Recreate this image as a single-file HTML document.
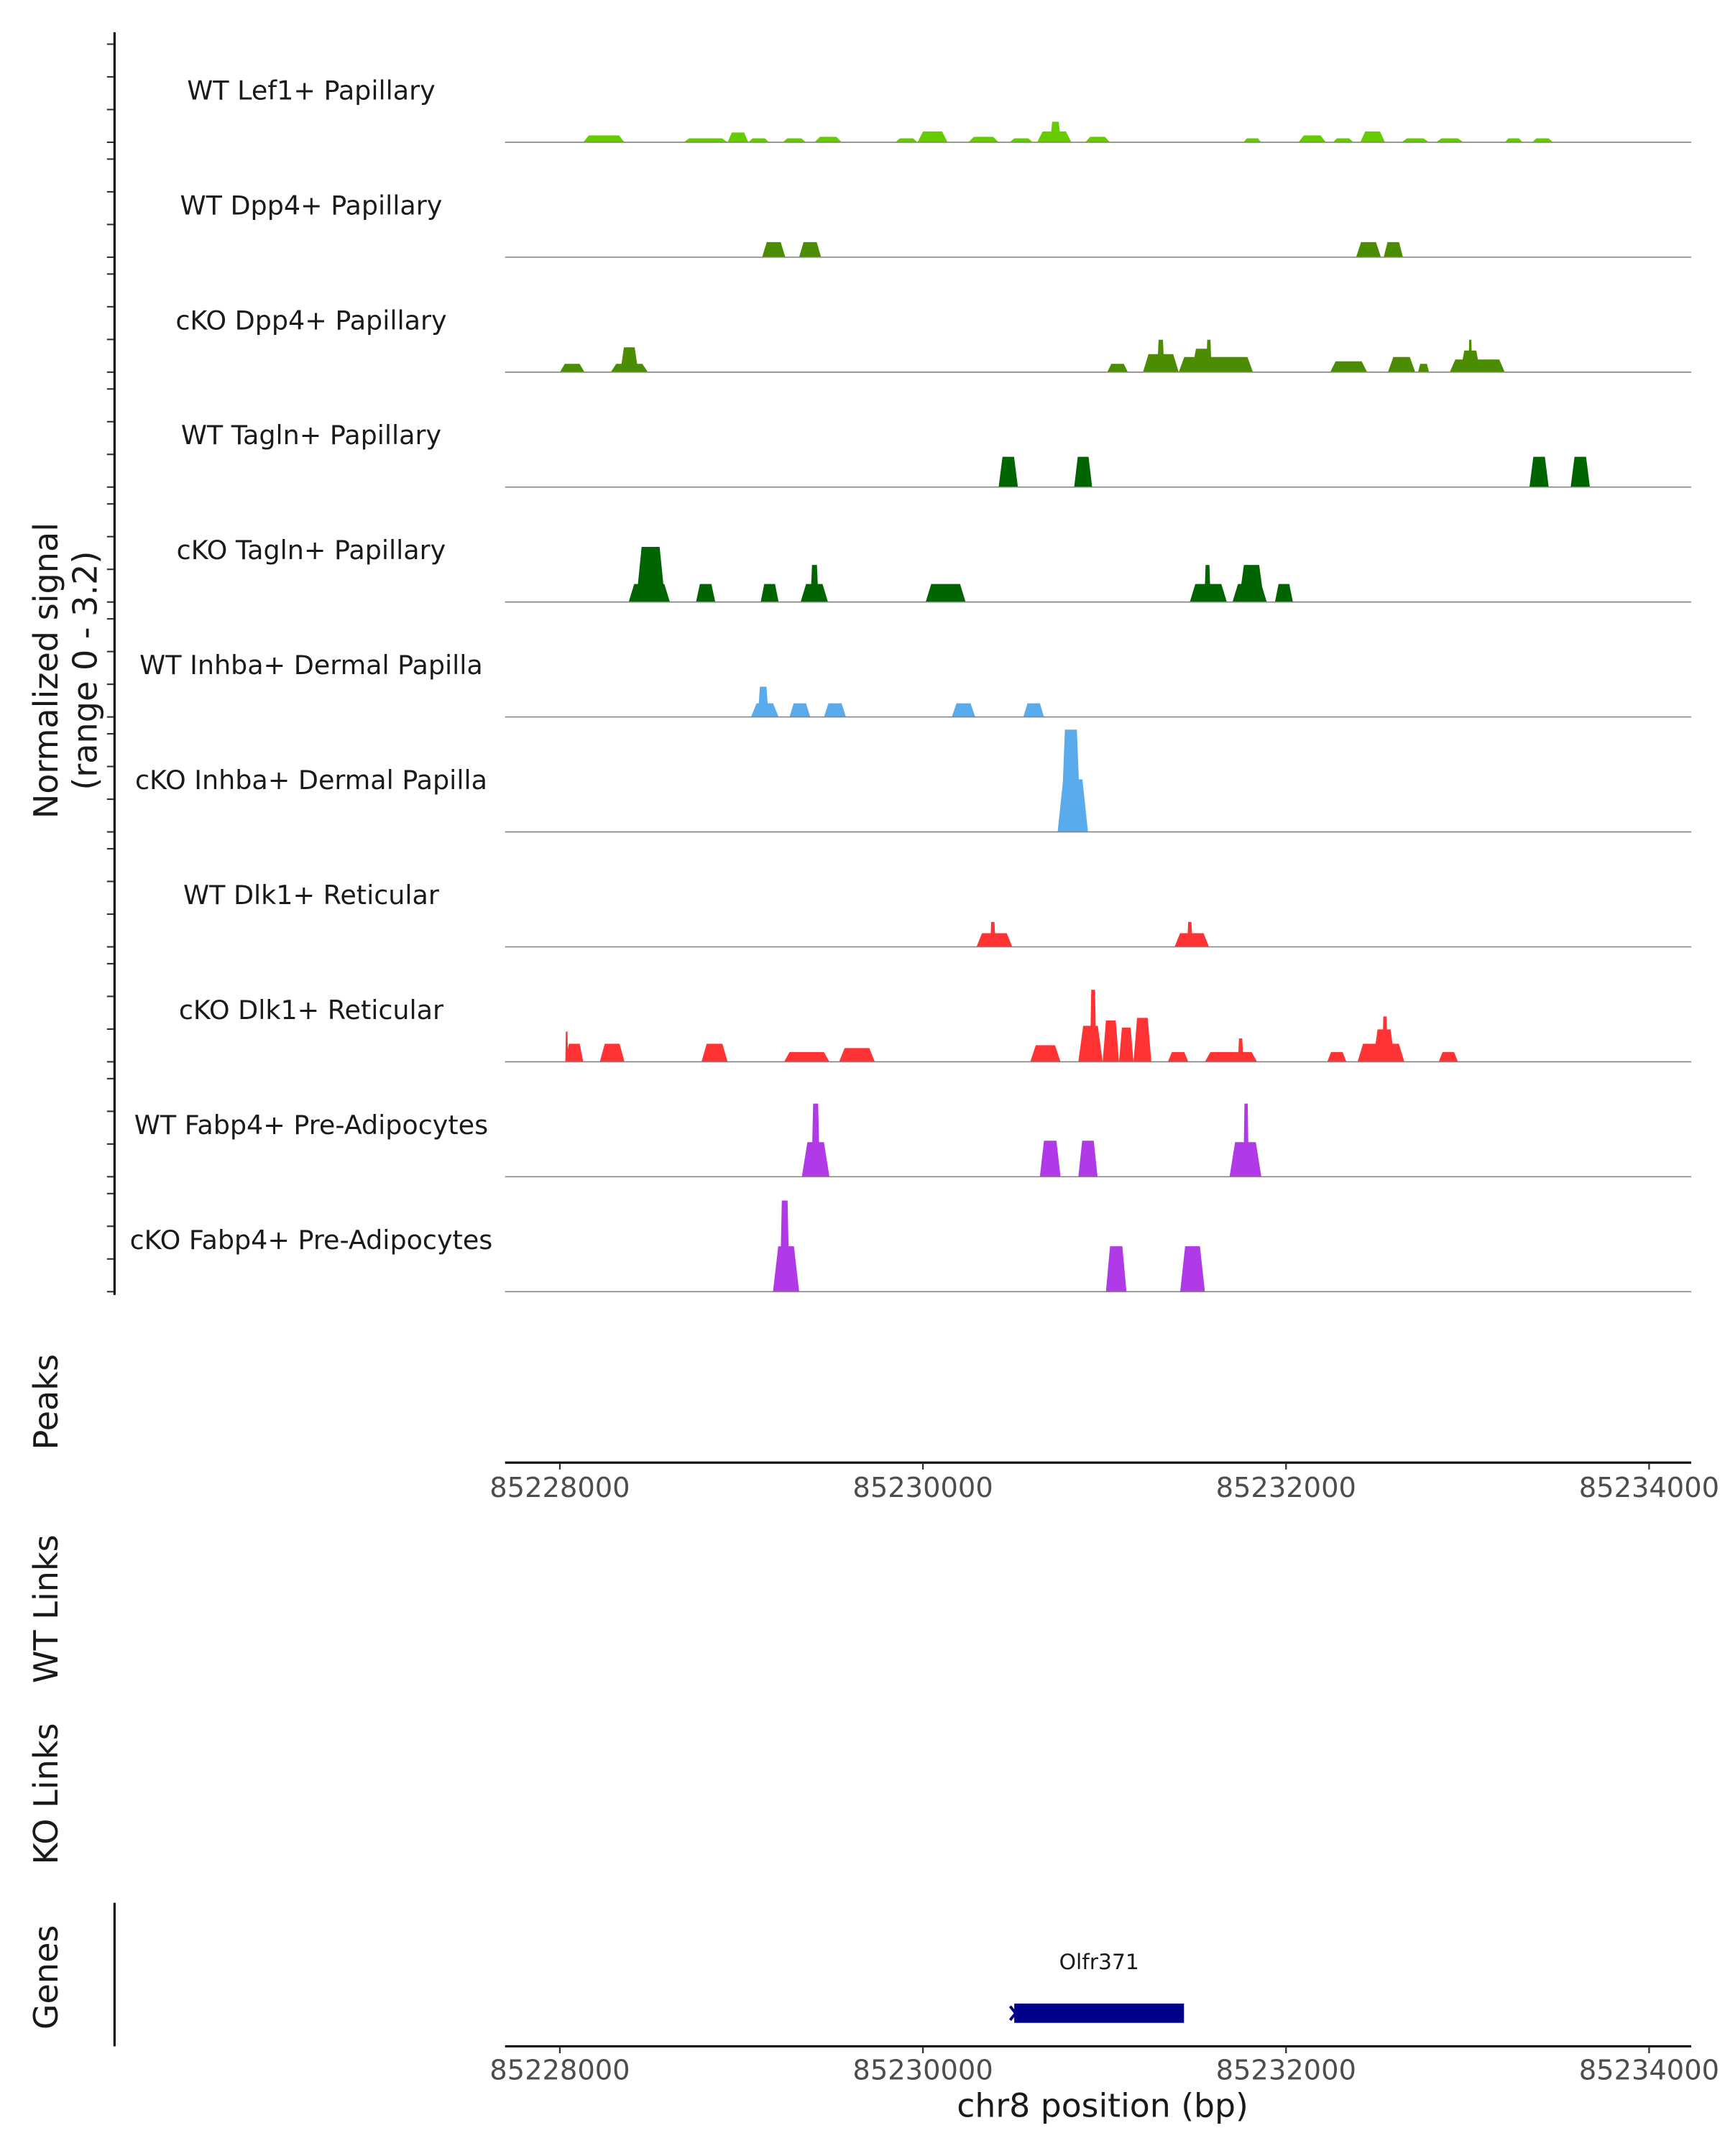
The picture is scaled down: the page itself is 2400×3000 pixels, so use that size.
<!DOCTYPE html>
<html><head><meta charset="utf-8"><style>
html,body{margin:0;padding:0;background:#fff}
svg{display:block}
text{font-family:"DejaVu Sans","Liberation Sans",sans-serif;fill:#1a1a1a}
</style></head><body>
<svg id="chart" width="2400" height="3000" viewBox="0 0 1250 1562.5" preserveAspectRatio="none" xmlns="http://www.w3.org/2000/svg">
<g id="tracks"></g>
<g id="axes"></g>
</svg>
<script>
// genomic offsets from 85228000, [start, end, signal]
const trackNames = ["WT Lef1+ Papillary","WT Dpp4+ Papillary","cKO Dpp4+ Papillary","WT Tagln+ Papillary","cKO Tagln+ Papillary","WT Inhba+ Dermal Papilla","cKO Inhba+ Dermal Papilla","WT Dlk1+ Reticular","cKO Dlk1+ Reticular","WT Fabp4+ Pre-Adipocytes","cKO Fabp4+ Pre-Adipocytes"];
const trackColors = ["#66cc00","#4c8c00","#4c8c00","#006400","#006400","#5aabeb","#5aabeb","#ff3333","#ff3333","#b03ae8","#b03ae8"];
const lef1 = [[129,356,0.19],[682,924,0.11],[924,1038,0.27],[1038,1152,0.11],[1227,1356,0.11],[1402,1553,0.15],[1848,1970,0.11],[1970,2136,0.3],[2250,2417,0.15],[2477,2606,0.11],[2629,2818,0.3],[2700,2760,0.57],[2894,3030,0.15],[3765,3864,0.11],[4068,4220,0.19],[4258,4371,0.11],[4409,4545,0.3],[4636,4788,0.11],[4826,4977,0.11],[5205,5303,0.11],[5356,5470,0.11]];
const dpp4WT = [[1114,1242,0.42],[1318,1439,0.42],[4386,4523,0.42],[4538,4644,0.42]];
const dpp4KO = [[0,136,0.23],[280,485,0.23],[333,432,0.69],[3015,3129,0.23],[3212,3409,0.5],[3290,3330,0.9],[3409,3818,0.42],[3480,3600,0.65],[3560,3590,0.9],[4243,4447,0.3],[4561,4712,0.42],[4727,4788,0.23],[4902,5205,0.35],[4960,5070,0.6],[5005,5025,0.9]];
const taglnWT = [[2417,2523,0.84],[2833,2932,0.84],[5341,5447,0.84],[5568,5674,0.84]];
const taglnKO = [[379,606,0.5],[420,580,1.53],[750,856,0.5],[1106,1205,0.5],[1326,1477,0.5],[1380,1425,1.03],[2015,2235,0.5],[3470,3674,0.5],[3550,3585,1.03],[3705,3894,0.5],[3740,3880,1.03],[3939,4038,0.5]];
const inhbaWT = [[1053,1205,0.38],[1090,1150,0.84],[1265,1379,0.38],[1455,1576,0.38],[2159,2288,0.38],[2553,2667,0.38]];
const inhbaKO = [[2742,2909,1.46],[2760,2870,2.84]];
const dlk1WT = [[2295,2492,0.38],[2370,2400,0.69],[3386,3576,0.38],[3455,3485,0.69]];
const dlk1KO = [[30,129,0.5],[30,45,0.84],[220,356,0.5],[780,924,0.5],[1235,1485,0.27],[1538,1735,0.38],[2591,2758,0.46],[2856,2990,1.0],[2920,2955,2.0],[2990,3080,1.15],[3080,3160,0.95],[3160,3258,1.22],[3349,3462,0.27],[3553,3841,0.27],[3735,3765,0.65],[4227,4333,0.27],[4394,4652,0.5],[4480,4600,0.9],[4530,4560,1.26],[4841,4947,0.27]];
const fabp4WT = [[1333,1485,0.96],[1386,1432,2.03],[2644,2758,1.0],[2856,2962,1.0],[3689,3864,0.96],[3765,3795,2.03]];
const fabp4KO = [[1174,1318,1.26],[1212,1265,2.53],[3008,3121,1.26],[3417,3553,1.26]];
const trackData = [lef1,dpp4WT,dpp4KO,taglnWT,taglnKO,inhbaWT,inhbaKO,dlk1WT,dlk1KO,fabp4WT,fabp4KO];
const xTicks = [85228000,85230000,85232000,85234000];
const geneName = "Olfr371";
const geneRange = [2503,3438];

const NS="http://www.w3.org/2000/svg";
const X0=85228000;
function xs(off){return 405.7+off*0.13155;}
function ys(v,base){return base-v*(83.5/3.2);}
function mk(tag,attrs,parent,txt){const e=document.createElementNS(NS,tag);for(const k in attrs)e.setAttribute(k,attrs[k]);if(txt!==undefined)e.textContent=txt;parent.appendChild(e);return e;}
const tg=document.getElementById('tracks');
const ag=document.getElementById('axes');
const baseTop=103.1, step=83.3;
trackNames.forEach((nm,i)=>{
  const base=baseTop+i*step;
  const g=mk('g',{},tg);
  
  
  const lb=mk('text',{x:225.5,y:base-31,'text-anchor':'middle','font-size':19},g,nm);
  
  
  trackData[i].forEach(p=>{
    const s=xs(p[0]),e=xs(p[1]);const w=e-s;const sl=Math.min(4,w*0.2);
    const y=ys(p[2],base);
    const poly=mk('polygon',{points:`${s},${base} ${s+sl},${y} ${e-sl},${y} ${e},${base}`,fill:trackColors[i]},g);
    
    
  });
  const bl=mk('line',{x1:366,x2:1225.5,y1:base,y2:base,stroke:'#808080','stroke-width':0.8},g);
  
  
  for(let k=0;k<4;k++){const y=base-k*23.7;mk('line',{x1:77.5,x2:83,y1:y,y2:y,stroke:'#333','stroke-width':1.1},ag);}
});
// left y axis
const ya=mk('line',{x1:83,x2:83,y1:23.4,y2:938.5,stroke:'#000','stroke-width':1.6},ag);

function vtext(x,y,t,size,name){const e=mk('text',{x:x,y:y,'text-anchor':'middle','font-size':size,transform:`rotate(-90 ${x} ${y})`},ag,t);}
vtext(41.7,486,"Normalized signal",24,'y-axis-title');
vtext(70,486,"(range 0 - 3.2)",24,'y-axis-subtitle');
vtext(41.7,1016,"Peaks",24,'peaks-title');
vtext(41.7,1166,"WT Links",24,'wt-links-title');
vtext(41.7,1300,"KO Links",24,'ko-links-title');
vtext(41.7,1433,"Genes",24,'genes-title');
function xaxis(y,ly,name){
  const l=mk('line',{x1:366,x2:1225.5,y1:y,y2:y,stroke:'#000','stroke-width':1.6},ag);
  
  xTicks.forEach(t=>{const x=xs(t-X0);mk('line',{x1:x,x2:x,y1:y,y2:y+5,stroke:'#333','stroke-width':1.2},ag);
    const tx=mk('text',{x:x,y:ly,'text-anchor':'middle','font-size':20,style:'fill:#4d4d4d'},ag,String(t));
    });
}
xaxis(1060,1085,'peaks-x-axis');
xaxis(1483,1507,'genes-x-axis');
const xl=mk('text',{x:799,y:1534,'text-anchor':'middle','font-size':23.8},ag,"chr8 position (bp)");

const ga=mk('line',{x1:83,x2:83,y1:1379,y2:1483,stroke:'#000','stroke-width':1.6},ag);

const gb=mk('rect',{x:xs(geneRange[0]),y:1452,width:xs(geneRange[1])-xs(geneRange[0]),height:14,fill:'#00008b'},ag);

const gx=xs(geneRange[0]);
mk('polyline',{points:`${gx-3},${1454} ${gx+1},${1459} ${gx-3},${1464}`,fill:'none',stroke:'#00008b','stroke-width':2},ag);
const gl=mk('text',{x:(xs(geneRange[0])+xs(geneRange[1]))/2,y:1427,'text-anchor':'middle','font-size':15.5},ag,geneName);

</script>
</body></html>
